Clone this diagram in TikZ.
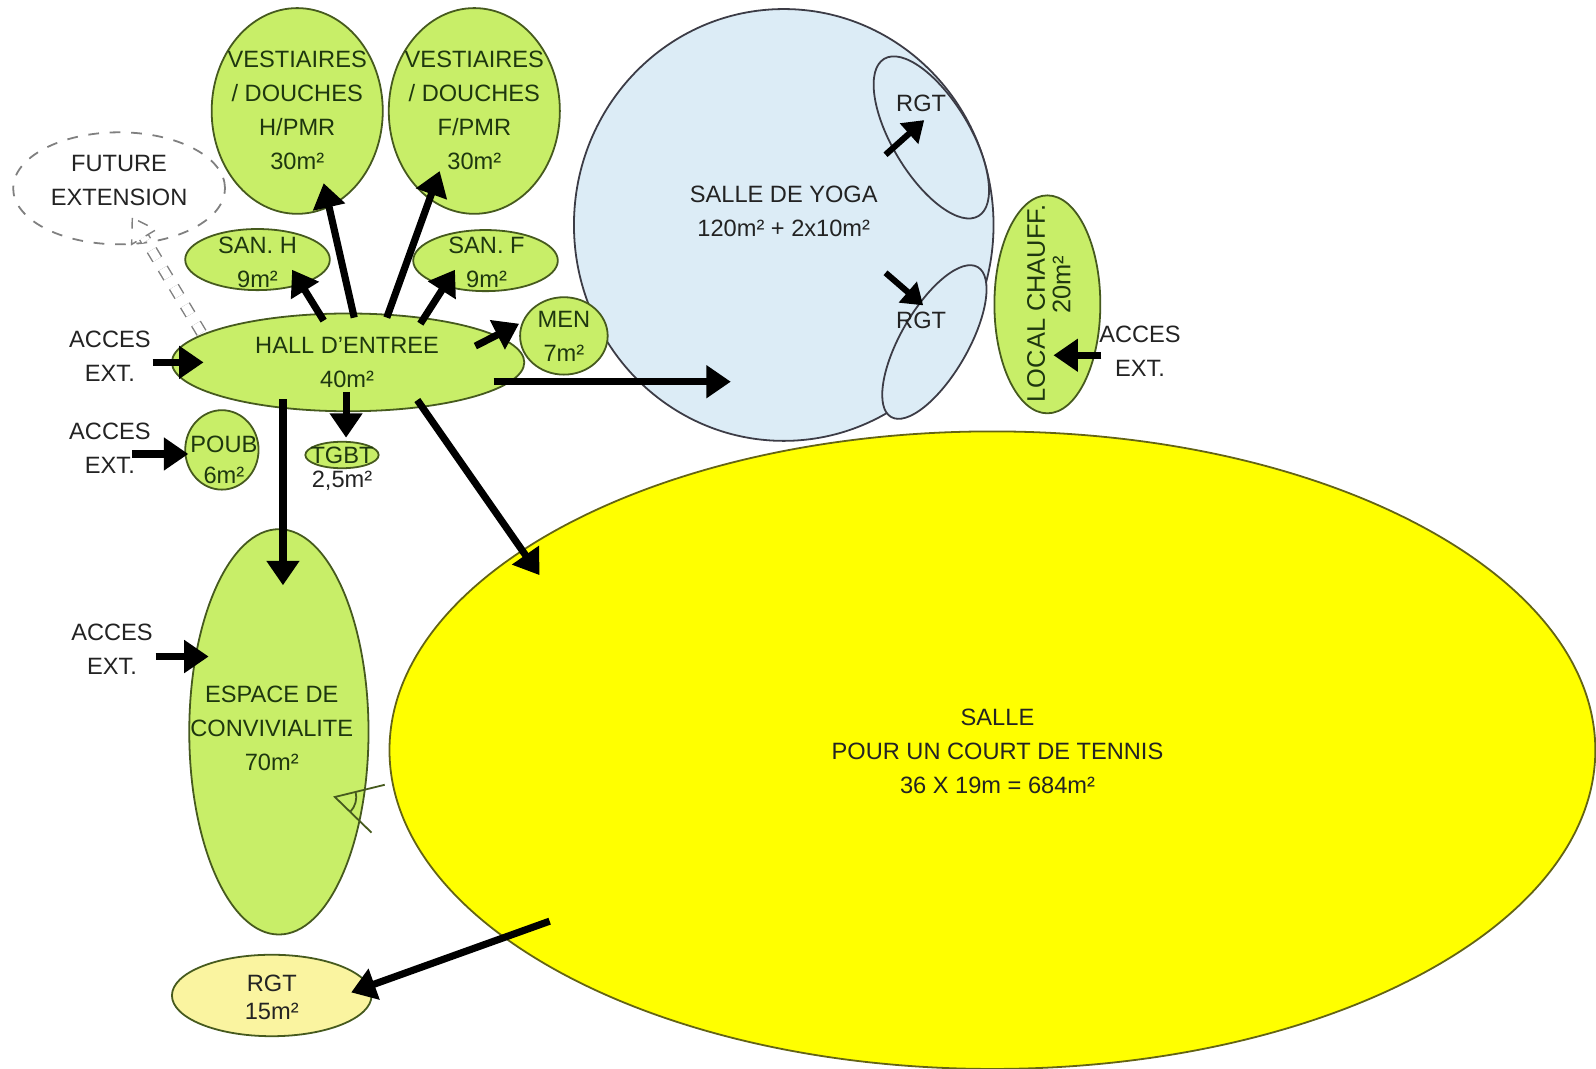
\documentclass[tikz,border=0pt]{standalone}
\usepackage{fontspec}
\setmainfont{Liberation Sans}
\usetikzlibrary{shapes.geometric, arrows.meta, calc}
\definecolor{roomgreen}{RGB}{200,238,104}
\definecolor{roomedge}{RGB}{70,90,30}
\definecolor{roomtext}{RGB}{30,55,15}
\definecolor{yogablue}{RGB}{220,236,246}
\definecolor{yogaedge}{RGB}{60,60,70}
\definecolor{tennisyellow}{RGB}{255,255,0}
\definecolor{tennisedge}{RGB}{100,100,20}
\definecolor{rgtyellow}{RGB}{250,244,160}
\definecolor{darktext}{RGB}{35,35,35}
\begin{document}
\begin{tikzpicture}[x=0.01cm, y=-0.01cm,
  txt/.style={font=\fontsize{6.6}{9.5}\selectfont, align=center, inner sep=0pt, text=darktext},
  gtxt/.style={txt, text=roomtext},
  room/.style={ellipse, draw=roomedge, fill=roomgreen, line width=0.5pt, inner sep=0pt},
  arr/.style={line width=0.07cm, draw=black, -{Triangle[length=0.24cm, width=0.31cm]}},
  sarr/.style={line width=0.06cm, draw=black, -{Triangle[length=0.20cm, width=0.26cm]}},
  extline/.style={draw=gray, dashed, line width=0.4pt, double=white, double distance=2.4pt}]
\fill[white] (0,0) rectangle (1568,1050);
\useasboundingbox (0,0) rectangle (1568,1050);

% big rooms
\node[ellipse, draw=tennisedge, fill=tennisyellow, line width=0.5pt, inner sep=0pt,
      minimum width=11.84cm, minimum height=6.26cm] (tennis) at (975,737) {};
\node[txt] (tennist) at (980,738) {SALLE\\POUR UN COURT DE TENNIS\\36 X 19m = 684m²};

\node[ellipse, draw=yogaedge, fill=yogablue, line width=0.5pt, inner sep=0pt,
      minimum width=4.12cm, minimum height=4.24cm] (yoga) at (770,221) {};
\node[txt] (yogat) at (770,208) {SALLE DE YOGA\\120m² + 2x10m²};
\node[ellipse, draw=yogaedge, fill=yogablue, line width=0.5pt, inner sep=0pt,
      minimum width=1.80cm, minimum height=0.76cm, rotate=-59] (rgtA) at (915,135) {};
\node[ellipse, draw=yogaedge, fill=yogablue, line width=0.5pt, inner sep=0pt,
      minimum width=1.70cm, minimum height=0.66cm, rotate=60] (rgtB) at (918,336) {};
\node[txt] (rgtAt) at (905,102) {RGT};
\node[txt] (rgtBt) at (905,315) {RGT};

% green rooms
\node[room, minimum width=1.68cm, minimum height=2.02cm] (vh) at (292,109) {};
\node[gtxt] (vht) at (292,108) {VESTIAIRES\\/ DOUCHES\\H/PMR\\30m²};
\node[room, minimum width=1.68cm, minimum height=2.02cm] (vf) at (466,109) {};
\node[gtxt] (vft) at (466,108) {VESTIAIRES\\/ DOUCHES\\F/PMR\\30m²};
\node[room, minimum width=1.42cm, minimum height=0.60cm] (sanh) at (253,255) {};
\node[gtxt] (sanht) at (253,258) {SAN. H\\9m²};
\node[room, minimum width=1.42cm, minimum height=0.60cm] (sanf) at (477,256) {};
\node[gtxt] (sanft) at (478,258) {SAN. F\\9m²};
\node[room, minimum width=3.46cm, minimum height=0.96cm] (hall) at (342,356) {};
\node[gtxt] (hallt) at (341,356) {HALL D'ENTREE\\40m²};
\node[room, minimum width=0.86cm, minimum height=0.76cm] (men) at (554,330) {};
\node[gtxt] (ment) at (554,330) {MEN\\7m²};
\node[room, minimum width=0.72cm, minimum height=0.78cm] (poub) at (218,442) {};
\node[gtxt, font=\fontsize{6.6}{8.8}\selectfont] (poubt) at (220,452) {POUB\\6m²};
\node[room, minimum width=0.72cm, minimum height=0.26cm] (tgbt) at (336,447) {};
\node[gtxt] (tgbtt) at (336,447) {TGBT};
\node[txt] (tgbta) at (336,472) {2,5m²};
\node[room, minimum width=1.76cm, minimum height=3.98cm] (esp) at (274,719) {};
\node[gtxt] (espt) at (267,716) {ESPACE DE\\CONVIVIALITE\\70m²};
\node[room, minimum width=1.04cm, minimum height=2.14cm] (loc) at (1029,299) {};
\node[gtxt, rotate=90, font=\fontsize{7.1}{9}\selectfont] (loct1) at (1018,298) {LOCAL CHAUFF.};
\node[gtxt, rotate=90, font=\fontsize{7.1}{9}\selectfont] (loct2) at (1043,280) {20m²};
\node[ellipse, draw=roomedge, fill=rgtyellow, line width=0.5pt, inner sep=0pt,
      minimum width=1.96cm, minimum height=0.80cm] (rgt15) at (267,978) {};
\node[txt, font=\fontsize{6.6}{7.7}\selectfont] (rgt15t) at (267,980) {RGT\\15m²};

% future extension
\node[ellipse, draw=gray, dashed, fill=white, line width=0.5pt, inner sep=0pt,
      minimum width=2.08cm, minimum height=1.10cm] (fe) at (117,185) {};
\node[txt] (fet) at (117,177) {FUTURE\\EXTENSION};

% external accesses
\node[txt] (acc1) at (108,350) {ACCES\\EXT.};
\node[txt] (acc2) at (108,440) {ACCES\\EXT.};
\node[txt] (acc3) at (110,638) {ACCES\\EXT.};
\node[txt] (acc4) at (1120,345) {ACCES\\EXT.};

% door symbol
\coordinate (door) at (329,783);
\draw[roomedge, line width=0.5pt] ([shift={(49,-12)}]door) -- (door) -- ([shift={(36,35)}]door);
\draw[roomedge, line width=0.5pt] ([shift={(14:0.21cm)}]door) arc[start angle=14, end angle=-44, radius=0.21cm];

% arrows
\draw[arr] ([shift={(-24,-41)}]hall.center) -- ([shift={(34,10)}]sanh.center);
\draw[arr] ([shift={(6,-44)}]hall.center) -- ([shift={(26,71)}]vh.center);
\draw[arr] ([shift={(38,-44)}]hall.center) -- ([shift={(-34,59)}]vf.center);
\draw[arr] ([shift={(71,-38)}]hall.center) -- ([shift={(-30,9)}]sanf.center);
\draw[arr] ([shift={(125,-16)}]hall.center) -- ([shift={(-44,-12)}]men.center);
\draw[arr] ([shift={(143,19)}]hall.center) -- ([shift={(-52,154)}]yoga.center);
\draw[arr] ([shift={(-2,29)}]hall.center) -- ([shift={(4,-17)}]tgbt.center);
\draw[arr] ([shift={(-64,36)}]hall.center) -- ([shift={(4,-144)}]esp.center);
\draw[arr] ([shift={(68,37)}]hall.center) -- ([shift={(-445,-172)}]tennis.center);
\draw[arr] ([shift={(-435,168)}]tennis.center) -- ([shift={(78,-3)}]rgt15.center);
\draw[arr] ([shift={(42,6)}]acc1.center) -- ([shift={(-142,0)}]hall.center);
\draw[arr] ([shift={(22,6)}]acc2.center) -- ([shift={(-33,4)}]poub.center);
\draw[arr] ([shift={(43,7)}]acc3.center) -- ([shift={(-69,-74)}]esp.center);
\draw[arr] ([shift={(-38,4)}]acc4.center) -- ([shift={(6,50)}]loc.center);
\draw[sarr] ([shift={(-45,17)}]rgtA.center) -- ([shift={(-7,-17)}]rgtA.center);
\draw[sarr] ([shift={(-48,-68)}]rgtB.center) -- ([shift={(-11,-36)}]rgtB.center);

% hollow double arrow to future extension
\coordinate (feS) at ([shift={(-144,-29)}]hall.center);
\coordinate (feT) at ([shift={(13,29)}]fe.center);
\coordinate (feB) at ($(feT)!0.22cm!(feS)$);
\draw[extline] (feS) -- (feB);
\draw[gray, dashed, line width=0.4pt, fill=white] (feT) -- ($(feB)!0.14cm!90:(feT)$) -- ($(feB)!0.14cm!-90:(feT)$) -- cycle;
\end{tikzpicture}
\end{document}
